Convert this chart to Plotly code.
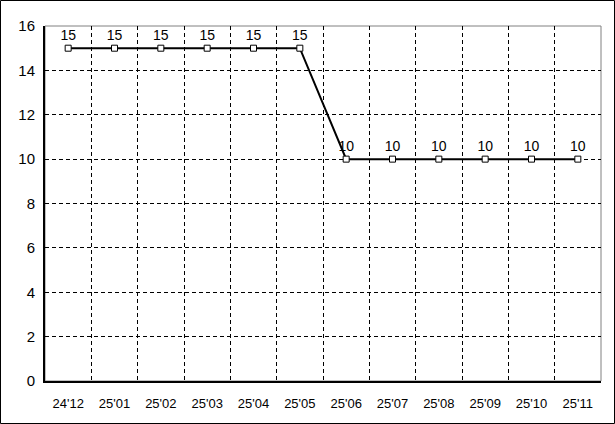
import plotly.graph_objects as go

categories = ["24'12", "25'01", "25'02", "25'03", "25'04", "25'05",
              "25'06", "25'07", "25'08", "25'09", "25'10", "25'11"]
values = [15, 15, 15, 15, 15, 15, 10, 10, 10, 10, 10, 10]
y_ticks = [0, 2, 4, 6, 8, 10, 12, 14, 16]

W, H = 615, 424
ML, MR, MT, MB = 45, 14, 26, 43
pw, ph = W - ML - MR, H - MT - MB

fig = go.Figure()
fig.add_trace(go.Scatter(
    x=categories, y=values, mode="lines+markers+text",
    text=[str(v) for v in values], textposition="top center",
    textfont=dict(family="Liberation Sans", size=14, color="black"),
    line=dict(color="black", width=2),
    marker=dict(symbol="square", size=6, color="white",
                line=dict(color="black", width=1)),
    cliponaxis=False, showlegend=False,
))

fig.update_layout(
    width=W, height=H,
    margin=dict(l=ML, r=MR, t=MT, b=MB, pad=0),
    paper_bgcolor="white", plot_bgcolor="white",
    font=dict(family="Liberation Sans", size=12, color="black"),
    xaxis=dict(type="category", tickson="boundaries", showgrid=True,
               gridcolor="black", griddash="4px,3px", gridwidth=1,
               showline=True, linecolor="black", linewidth=2,
               ticks="", ticklen=0, tickfont=dict(size=13),
               ticklabelstandoff=9,
               range=[-0.5, len(categories) - 0.5], zeroline=False),
    yaxis=dict(range=[0, 16], tickvals=y_ticks, showgrid=True,
               gridcolor="black", griddash="4px,3px", gridwidth=1,
               showline=True, linecolor="black", linewidth=2,
               ticks="", tickfont=dict(size=15), ticklabelstandoff=5,
               zeroline=False),
    shapes=[
        dict(type="rect", xref="paper", yref="paper", x0=0, x1=1, y0=0, y1=1,
             line=dict(color="#808080", width=1), layer="below"),
        dict(type="rect", xref="paper", yref="paper",
             x0=(-ML + 0.5) / pw, x1=(pw + MR - 0.5) / pw,
             y0=(-MB + 0.5) / ph, y1=(ph + MT - 0.5) / ph,
             line=dict(color="black", width=1)),
    ],
)

fig.write_html("out.html", config={"displayModeBar": False},
               post_script="document.body.style.margin='0';document.body.style.overflow='hidden';")
